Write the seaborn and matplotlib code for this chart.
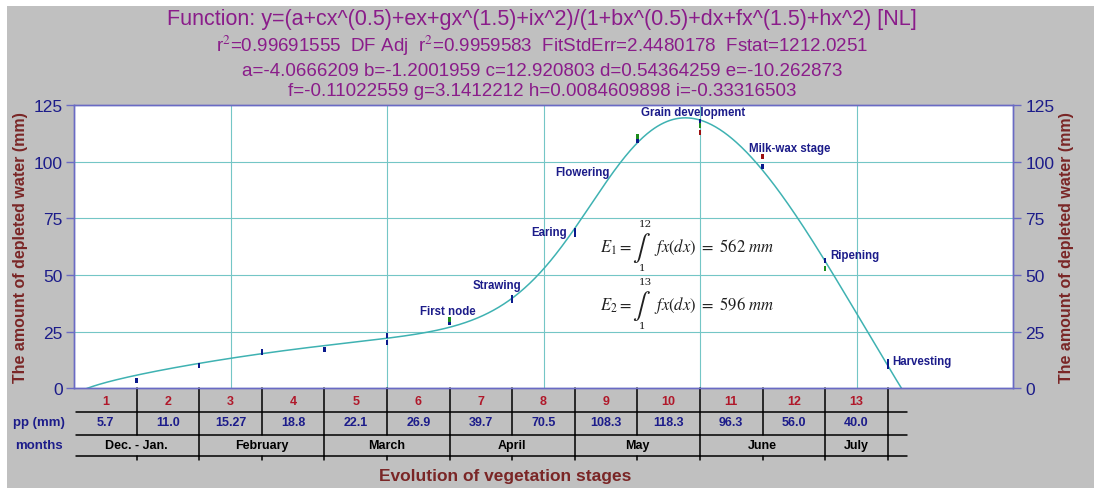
import numpy as np
import pandas as pd
import matplotlib
matplotlib.use('Agg')
import matplotlib.pyplot as plt
from matplotlib.patches import Rectangle
import seaborn as sns

# fitted model parameters (from the chart header)
a, b, c, d, e = -4.0666209, -1.2001959, 12.920803, 0.54364259, -10.262873
f, g, h, i_par = -0.11022559, 3.1412212, 0.0084609898, -0.33316503

# observed points
blue_x = [1, 2, 3, 4, 5, 5, 6, 7, 7, 8, 8, 9, 10, 11, 12, 13, 13]
blue_y = [3.5, 10, 16, 17, 23.2, 20.2, 29, 40, 38.7, 69.5, 67.8, 109.5, 117.5, 97.7, 56.5, 12, 9.8]
green_x = [6, 9, 10, 12]
green_y = [30.5, 111, 115.8, 52.7]
red_x = [10, 11]
red_y = [113, 102.1]

# table rows
stage_num = [str(k) for k in range(1, 14)]
pp_mm = ['5.7', '11.0', '15.27', '18.8', '22.1', '26.9', '39.7', '70.5',
         '108.3', '118.3', '96.3', '56.0', '40.0']
months = ['Dec. - Jan.', 'February', 'March', 'April', 'May', 'June', 'July']
month_span = [(0, 2), (2, 4), (4, 6), (6, 8), (8, 10), (10, 12), (12, 13)]

# stage labels: text, x, y, align
stages = [('First node', 5.97, 34.1, 'center'),
          ('Strawing', 6.76, 45.6, 'center'),
          ('Earing', 7.88, 69.1, 'right'),
          ('Flowering', 8.55, 95.3, 'right'),
          ('Grain development', 9.89, 121.9, 'center'),
          ('Milk-wax stage', 10.78, 106.0, 'left'),
          ('Ripening', 12.08, 58.9, 'left'),
          ('Harvesting', 13.07, 12.2, 'left')]

title_lines = [
    'Function: y=(a+cx^(0.5)+ex+gx^(1.5)+ix^2)/(1+bx^(0.5)+dx+fx^(1.5)+hx^2) [NL]',
    r'r$^2$=0.99691555  DF Adj  r$^2$=0.9959583  FitStdErr=2.4480178  Fstat=1212.0251',
    'a=-4.0666209 b=-1.2001959 c=12.920803 d=0.54364259 e=-10.262873',
    'f=-0.11022559 g=3.1412212 h=0.0084609898 i=-0.33316503',
]

navy = '#1c1c8a'
purple = '#8a1c8a'
brown = '#7a2626'
red = '#b0182a'
spine_c = '#6a6ac4'
grid_c = '#74c6c6'
curve_c = '#3fb2b2'

sns.set_theme(style='white')
plt.rcParams['font.family'] = ['Liberation Sans', 'DejaVu Sans']
plt.rcParams['mathtext.fontset'] = 'stix'

W, H = 1094, 489
fig = plt.figure(figsize=(W / 100, H / 100), dpi=100)
fig.patch.set_facecolor('white')
fig.add_artist(Rectangle((7 / W, 0), 1 - 7 / W, 1 - 7 / H, transform=fig.transFigure,
                         facecolor='#c0c0c0', edgecolor='none', zorder=0))

ax = fig.add_axes([74 / W, (H - 389.3) / H, 939 / W, 283.3 / H])
ax.set_facecolor('white')

# fitted curve
xs = np.linspace(0.15, 13.4, 800)
sq = np.sqrt(xs)
num = a + c * sq + e * xs + g * xs * sq + i_par * xs ** 2
den = 1 + b * sq + d * xs + f * xs * sq + h * xs ** 2
ys = num / den
sns.lineplot(x=xs, y=ys, ax=ax, color=curve_c, lw=1.1, zorder=2)

pts = pd.DataFrame({
    'x': blue_x + green_x + red_x,
    'y': blue_y + green_y + red_y,
    'series': ['blue'] * len(blue_x) + ['green'] * len(green_x) + ['red'] * len(red_x),
})
rect = [(-0.25, -0.5), (0.25, -0.5), (0.25, 0.5), (-0.25, 0.5), (-0.25, -0.5)]
sns.scatterplot(data=pts, x='x', y='y', hue='series', ax=ax, legend=False,
                palette={'blue': '#0a1a8c', 'green': '#1c8c1c', 'red': '#9c1010'},
                marker=rect, s=14, linewidth=0, zorder=3)

ax.set_xlim(0, 15)
ax.set_ylim(0, 125)
ax.set_xticks(np.arange(0, 15.1, 2.5))
ax.set_xticklabels([])
ax.set_yticks([0, 25, 50, 75, 100, 125])
ax.set_xlabel('')
ax.set_ylabel('')
ax.grid(True, color=grid_c, lw=0.8)
ax.tick_params(axis='x', length=0)
ax.tick_params(axis='y', left=True, length=6, width=1, color=spine_c,
               labelcolor=navy, labelsize=12.5, pad=2)
for s in ax.spines.values():
    s.set_color(spine_c)
    s.set_linewidth(1)

ax2 = ax.twinx()
ax2.set_ylim(0, 125)
ax2.set_yticks([0, 25, 50, 75, 100, 125])
ax2.tick_params(axis='y', right=True, length=6, width=1, color=spine_c,
                labelcolor=navy, labelsize=12.5, pad=3)
ax2.grid(False)
for s in ax2.spines.values():
    s.set_color(spine_c)
    s.set_linewidth(1)

# stage labels
for txt, x, y, ha in stages:
    ax.text(x, y, txt, ha=ha, va='center', color=navy, fontsize=8.3, fontweight='bold', zorder=4)

# integrals
for lo_txt, hi_txt, val, yc in [('1', '12', '562', 62.4), ('1', '13', '596', 36.8)]:
    sub = '1' if hi_txt == '12' else '2'
    ax.text(8.40, yc, r'$E_%s =$' % sub, ha='left', va='center', fontsize=12, color='#202020')
    ax.text(9.07, yc, r'$\int$', ha='center', va='center', fontsize=19, color='#202020')
    ax.text(9.12, yc + 10.2, hi_txt, ha='center', va='center', fontsize=7.5,
            family='DejaVu Serif', color='#202020')
    ax.text(9.07, yc - 9.2, lo_txt, ha='center', va='center', fontsize=7.5,
            family='DejaVu Serif', color='#202020')
    ax.text(9.27, yc, r'$fx(dx)\ =\ %s\ mm$' % val, ha='left', va='center', fontsize=12,
            color='#202020')

# table under the plot
lk = dict(color='black', lw=1.1, clip_on=False, zorder=5)
for yl in [-10.5, -20.5, -29.8]:
    ax.plot([0.03, 13.3], [yl, yl], **lk)
for k in range(1, 14):
    ax.plot([k, k], [0, -20.5], **lk)
    ax.plot([k, k], [-29.8, -31.7], **lk)
for lo, hi in month_span:
    ax.plot([hi, hi], [-20.5, -29.8], **lk)
for k in range(13):
    ax.text(k + 0.5, -5.5, stage_num[k], ha='center', va='center', color=red,
            fontsize=9, fontweight='bold')
    ax.text(k + 0.5, -15.0, pp_mm[k], ha='center', va='center', color=navy,
            fontsize=9, fontweight='bold')
for name, (lo, hi) in zip(months, month_span):
    ax.text((lo + hi) / 2, -24.8, name, ha='center', va='center', color='black',
            fontsize=9, fontweight='bold')
ax.text(-0.56, -15.0, 'pp (mm)', ha='center', va='center', color=navy, fontsize=9.5, fontweight='bold')
ax.text(-0.56, -24.8, 'months', ha='center', va='center', color=navy, fontsize=9.5, fontweight='bold')

fig.text(505 / W, 1 - 477 / H, 'Evolution of vegetation stages', ha='center', va='center',
         color=brown, fontsize=12.5, fontweight='bold')

ylab = 'The amount of depleted water (mm)'
fig.text(21 / W, 1 - 248 / H, ylab, rotation=90, ha='center', va='center',
         color=brown, fontsize=11.5, fontweight='bold')
fig.text(1067 / W, 1 - 248 / H, ylab, rotation=90, ha='center', va='center',
         color=brown, fontsize=11.5, fontweight='bold')

for txt, yp, fs in zip(title_lines, [20, 46, 71, 92], [15.5, 13.5, 13.5, 13.5]):
    fig.text(542 / W, 1 - yp / H, txt, ha='center', va='center', color=purple, fontsize=fs)

fig.savefig('out.png', dpi=100, facecolor=fig.get_facecolor())
